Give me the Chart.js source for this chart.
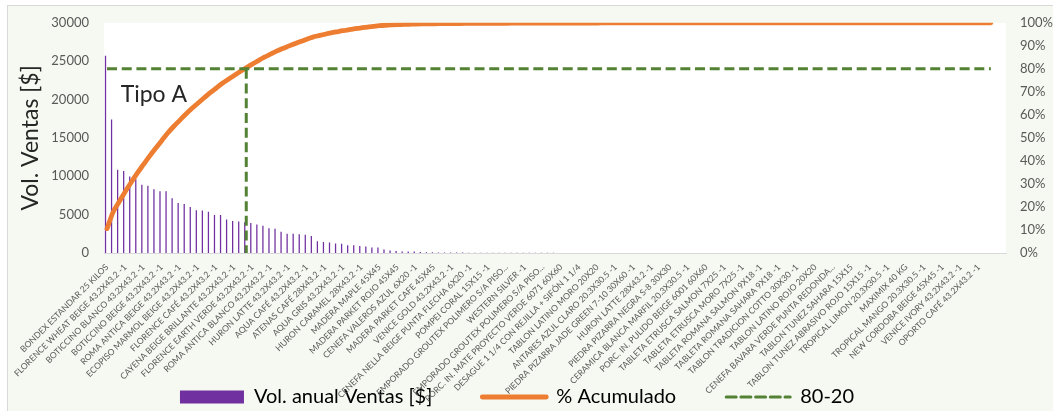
<!DOCTYPE html>
<html lang="es">
<head>
<meta charset="utf-8">
<title>Pareto de ventas</title>
<script src="https://cdn.jsdelivr.net/npm/chart.js@4.4.1/dist/chart.umd.min.js"></script>
<style>
  html, body { margin: 0; padding: 0; background: #ffffff; }
  canvas { display: block; }
</style>
</head>
<body>
<canvas id="pareto" width="1053" height="411"></canvas>
<script>
// Productos rotulados en el eje (uno de cada tres, en orden de ventas)
const etiquetas = [
  'BONDEX ESTANDAR 25 KILOS',
  'FLORENCE WHEAT BEIGE 43.2X43.2 -1',
  'BOTICCINO BLANCO 43.2X43.2 -1',
  'BOTICCINO BEIGE 43.2X43.2 -1',
  'ROMA ANTICA BEIGE 43.2X43.2 -1',
  'ECOPISO MARMOL BEIGE 43.2X43.2 -1',
  'FLORENCE CAFÉ 43.2X43.2 -1',
  'CAYENA BEIGE BRILLANTE 43.2X43.2 -1',
  'FLORENCE EARTH VERDE 43.2X43.2 -1',
  'ROMA ANTICA BLANCO 43.2X43.2 -1',
  'HURON LATTE 43.2X43.2 -1',
  'AQUA CAFÉ 43.2X43.2 -1',
  'ATENAS CAFÉ 28X43.2 -1',
  'AQUA GRIS 43.2X43.2 -1',
  'HURON CARAMEL 28X43.2 -1',
  'MADERA MAPLE 45X45',
  'MADERA PARKET ROJO 45X45',
  'CENEFA VALEROS AZUL 6X20 -1',
  'MADERA PARKET CAFE 45X45',
  'VENICE GOLD 43.2X43.2 -1',
  'CENEFA NELLA BEIGE PUNTA FLECHA 6X20 -1',
  'POMPEI CORAL 15X15 -1',
  'EMPORADO GROUTEX POLIMERO S/A PISO...',
  'WESTERN SILVER -1',
  'EMPORADO GROUTEX POLIMERO S/A PISO...',
  'PORC. IN. MATE PROYECTO VERDE 6071 60X60',
  'DESAGUE 1 1/4 CON REJILLA + SIFÓN 1 1/4',
  'TABLON LATINO MORO 20X20',
  'ANTARES AZUL CLARO 20.3X30.5 -1',
  'PIEDRA PIZARRA JADE GREEN 7-10 30X60 -1',
  'HURON LATTE 28X43.2 -1',
  'PIEDRA PIZARRA NEGRA S-8 30X30',
  'CERAMICA BLANCA MARFIL 20.3X30.5 -1',
  'PORC. IN. PULIDO BEIGE 6001 60X60',
  'TABLETA ETRUSCA SALMON 7X25 -1',
  'TABLETA ETRUSCA MORO 7X25 -1',
  'TABLETA ROMANA SALMON 9X18 -1',
  'TABLETA ROMANA SAHARA 9X18 -1',
  'TABLON TRADICION COTTO 30X30 -1',
  'TABLON LATINO ROJO 20X20',
  'CENEFA BAVARA VERDE PUNTA REDONDA...',
  'TABLON TUNEZ SAHARA 15X15',
  'TABLON TUNEZ ABRASIVO ROJO 15X15 -1',
  'TROPICAL LIMON 20.3X30.5 -1',
  'MAXIMIX 40 KG',
  'TROPICAL MANGO 20.3X30.5 -1',
  'NEW CORDOBA BEIGE 45X45 -1',
  'VENICE IVORY 43.2X43.2 -1',
  'OPORTO CAFÉ 43.2X43.2 -1'
];
const pasoEtiquetas = 3;
const totalCategorias = 149;

// Volumen anual de ventas por producto [$], de mayor a menor
const ventas = [
  25700, 17400, 10850, 10700, 9970, 9600, 8900, 8750, 8300, 8050,
  8050, 7130, 6520, 6400, 6000, 5580, 5530, 5390, 4950, 4950,
  4350, 4180, 4090, 4000, 3920, 3700, 3540, 3230, 3150, 2770,
  2520, 2520, 2430, 2390, 2210, 1530, 1440, 1370, 1240, 1190,
  1020, 1020, 900, 860, 730, 730, 470, 340, 260, 210,
  210, 200, 130, 100,
  90, 80, 75, 60, 55, 50, 45, 40, 38, 35,
  32, 30, 28, 26, 25, 24, 22, 20, 19, 18,
  17, 16, 15, 14, 13, 12, 12, 11, 10, 10,
  9, 9, 8, 8, 7, 7, 7, 6, 6, 6,
  5, 5, 5, 5, 4, 4, 4, 4, 4, 3,
  3, 3, 3, 3, 3, 2, 2, 2, 2, 2,
  2, 2, 2, 1.5, 1.5, 1.5, 1.5, 1.5, 1, 1,
  1, 1, 1, 1, 1, 1, 1, 0.8, 0.8, 0.8,
  0.7, 0.7, 0.6, 0.6, 0.5, 0.5, 0.5, 0.4, 0.4, 0.3,
  0.3, 0.2, 0.2
];

// Escalas
const ejeVentas = { min: 0, max: 30000, paso: 5000 };
const ejePorcentaje = { min: 0, max: 100, paso: 10 };
const limitePareto = 80;

// Categorías del eje X: sólo una de cada tres lleva nombre visible
const categorias = [];
for (let i = 0; i < totalCategorias; i++) {
  const k = i / pasoEtiquetas;
  categorias.push(i % pasoEtiquetas === 0 && k < etiquetas.length ? etiquetas[k] : '');
}

// Porcentaje acumulado
const total = ventas.reduce((a, b) => a + b, 0);
const acumulado = [];
let suma = 0;
for (const v of ventas) { suma += v; acumulado.push(suma / total * 100); }

// Primer producto que alcanza el 80 % acumulado
const corte = acumulado.findIndex(p => p >= limitePareto);

// Líneas 80-20: horizontal en el 80 % y vertical en el corte
const linea8020 = [
  { x: 0, y: limitePareto },
  { x: ventas.length - 1, y: limitePareto },
  { x: corte, y: null },
  { x: corte, y: limitePareto },
  { x: corte, y: 0 }
];

const COLOR_BARRA = '#7030A0';
const COLOR_ACUM = '#ED7D31';
const COLOR_8020 = '#548235';
const FUENTE = 'Lato, "Open Sans", sans-serif';

// Fondo del gráfico y del área de trazado
const fondo = {
  id: 'fondo',
  beforeDraw(chart) {
    const { ctx, width, height, chartArea: a } = chart;
    ctx.save();
    ctx.fillStyle = '#ffffff';
    ctx.fillRect(0, 0, width, height);
    ctx.fillStyle = '#F6F9F1';
    ctx.fillRect(7, 5, width, height);
    ctx.strokeStyle = '#D9D9D9';
    ctx.lineWidth = 1;
    ctx.strokeRect(7.5, 5.5, width + 10, height + 10);
    ctx.fillStyle = '#ffffff';
    ctx.fillRect(a.left, a.top, a.right - a.left, a.bottom - a.top);
    ctx.restore();
  }
};

// Los rótulos de los ejes X y derecho pueden salir de la caja de su eje
const rotulosLibres = {
  id: 'rotulosLibres',
  afterLayout(chart) {
    ['x', 'y2'].forEach(id => {
      const s = chart.scales[id];
      if (s) s._computeLabelArea = () => undefined;
    });
  }
};

// Rótulo de la zona A
const zonaA = { texto: 'Tipo A', indice: 2.25, valor: 19700 };
const rotuloZona = {
  id: 'rotuloZona',
  afterDatasetsDraw(chart) {
    const { ctx, scales } = chart;
    ctx.save();
    ctx.font = '23px ' + FUENTE;
    ctx.fillStyle = '#262626';
    ctx.textAlign = 'left';
    ctx.textBaseline = 'alphabetic';
    ctx.fillText(zonaA.texto, scales.x.getPixelForValue(zonaA.indice), scales.y.getPixelForValue(zonaA.valor));
    ctx.restore();
  }
};

new Chart(document.getElementById('pareto'), {
  type: 'bar',
  data: {
    labels: categorias,
    datasets: [
      {
        type: 'bar',
        label: 'Vol. anual Ventas [$]',
        data: ventas,
        backgroundColor: COLOR_BARRA,
        borderWidth: 0,
        barPercentage: 0.42,
        categoryPercentage: 1,
        xAxisID: 'x',
        yAxisID: 'y',
        order: 3
      },
      {
        type: 'line',
        label: '% Acumulado',
        data: acumulado,
        borderColor: COLOR_ACUM,
        backgroundColor: COLOR_ACUM,
        borderWidth: 4.8,
        borderCapStyle: 'round',
        pointRadius: 0,
        cubicInterpolationMode: 'monotone',
        xAxisID: 'x',
        yAxisID: 'y2',
        order: 2
      },
      {
        type: 'line',
        label: '80-20',
        data: linea8020,
        borderColor: COLOR_8020,
        backgroundColor: COLOR_8020,
        borderWidth: 3,
        borderDash: [10, 4.7],
        pointRadius: 0,
        spanGaps: false,
        xAxisID: 'x2',
        yAxisID: 'y2',
        order: 1
      }
    ]
  },
  options: {
    responsive: false,
    animation: false,
    events: [],
    layout: { padding: { top: 18, left: 0, right: 19, bottom: -6 } },
    scales: {
      x: {
        type: 'category',
        offset: true,
        grid: { display: false, drawTicks: false },
        border: { display: true, color: '#D9D9D9', width: 1 },
        ticks: {
          autoSkip: false,
          maxRotation: 45,
          minRotation: 45,
          padding: 9,
          color: '#595959',
          font: { family: FUENTE, size: 8.6 }
        },
        afterFit(s) { s.height = 84; }
      },
      x2: {
        type: 'linear',
        display: false,
        min: -0.5,
        max: totalCategorias - 0.5,
        offset: false
      },
      y: {
        position: 'left',
        min: ejeVentas.min,
        max: ejeVentas.max,
        grid: { display: false, drawTicks: false },
        border: { display: false },
        ticks: {
          stepSize: ejeVentas.paso,
          padding: 15,
          color: '#595959',
          font: { family: FUENTE, size: 13 },
          callback: v => String(v)
        },
        title: {
          display: true,
          text: 'Vol. Ventas [$]',
          color: '#262626',
          font: { family: FUENTE, size: 23 },
          padding: { top: 17, bottom: 0 }
        },
        afterFit(s) { s.width = 104; }
      },
      y2: {
        position: 'right',
        min: ejePorcentaje.min,
        max: ejePorcentaje.max,
        grid: { display: false, drawTicks: false },
        border: { display: false },
        ticks: {
          stepSize: ejePorcentaje.paso,
          padding: 14,
          color: '#595959',
          font: { family: FUENTE, size: 13 },
          callback: v => v + '%'
        },
        afterFit(s) { s.width = 28; }
      }
    },
    plugins: {
      tooltip: { enabled: false },
      legend: {
        position: 'bottom',
        labels: {
          usePointStyle: true,
          pointStyleWidth: 64,
          boxHeight: 13,
          padding: 50,
          color: '#262626',
          font: { family: FUENTE, size: 20 },
          generateLabels(chart) {
            return chart.data.datasets.map((ds, i) => ({
              text: ds.label,
              datasetIndex: i,
              hidden: false,
              fillStyle: ds.backgroundColor,
              strokeStyle: ds.type === 'bar' ? ds.backgroundColor : ds.borderColor,
              lineWidth: ds.type === 'bar' ? 0 : ds.borderWidth,
              lineDash: ds.borderDash || [],
              lineCap: ds.type === 'bar' ? 'butt' : 'round',
              pointStyle: ds.type === 'bar' ? 'rect' : 'line',
              rotation: 0
            }));
          }
        }
      }
    }
  },
  plugins: [fondo, rotulosLibres, rotuloZona]
});
</script>
</body>
</html>
